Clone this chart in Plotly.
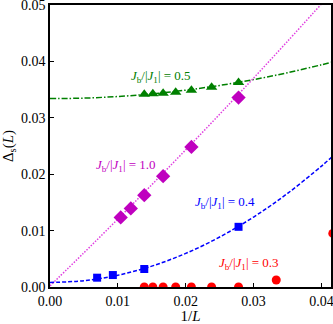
# %%
# imports
import plotly.graph_objects as go

# %%
# data: 1/L and gap Delta_s(L)
# J_b/|J_1| = 0.5 (green triangles)
x_05 = [1/72, 1/66, 1/60, 1/54, 1/48, 1/42, 1/36]
y_05 = [0.03416, 0.03425, 0.03434, 0.03451, 0.03487, 0.0354, 0.03628]
# J_b/|J_1| = 1.0 (magenta diamonds)
x_10 = [1/96, 1/84, 1/72, 1/60, 1/48, 1/36]
y_10 = [0.01234, 0.01393, 0.01628, 0.01965, 0.02483, 0.03358]
# J_b/|J_1| = 0.4 (blue squares)
x_04 = [1/144, 1/108, 1/72, 1/36]
y_04 = [0.00165, 0.00212, 0.00319, 0.01067]
# J_b/|J_1| = 0.3 (red circles)
x_03 = [1/72, 1/66, 1/60, 1/54, 1/48, 1/42, 1/36, 1/30, 1/24]
y_03 = [0.0, 0.0, 0.0, 0.0, 0.0, 0.0, 0.0, 0.00124, 0.0095]

# fit curves
x_fit = [0.0, 0.005, 0.01, 0.015, 0.02, 0.025, 0.03, 0.035, 0.04, 0.0415]
fit_05 = [0.0334, 0.03349, 0.03378, 0.03424, 0.0349, 0.03574, 0.03678, 0.03799, 0.0394, 0.03986]
fit_04 = [0.0008, 0.00112, 0.00209, 0.0037, 0.00596, 0.00886, 0.01241, 0.0166, 0.02144, 0.02302]
x_fit_10 = [0.0, 0.005, 0.01, 0.015, 0.02, 0.025, 0.03, 0.035, 0.04]
fit_10 = [0.0002, 0.00607, 0.01205, 0.01814, 0.02433, 0.03064, 0.03705, 0.04357, 0.0502]

# label text and positions
labels = ["0.5", "1.0", "0.4", "0.3"]
label_x = [0.01638, 0.01122, 0.02583, 0.0293]
label_y = [0.03735, 0.0216, 0.01504, 0.00425]

GREEN = "#008000"
MAGENTA = "#bf00bf"
BLUE = "#0000ff"
RED = "#ff0000"
FONT = "Liberation Serif"

# %%
fig = go.Figure()

# fit lines first so markers sit on top
fig.add_trace(go.Scatter(x=x_fit, y=fit_05, mode="lines", line_shape="spline",
                         line=dict(color=GREEN, width=1.5, dash="6px,2px,1.5px,2px")))
fig.add_trace(go.Scatter(x=x_fit_10, y=fit_10, mode="lines", line_shape="spline",
                         line=dict(color="#e040e0", width=1.5, dash="1.5px,1.5px")))
fig.add_trace(go.Scatter(x=x_fit, y=fit_04, mode="lines", line_shape="spline",
                         line=dict(color=BLUE, width=1.5, dash="4px,2px")))

fig.add_trace(go.Scatter(x=x_05, y=y_05, mode="markers",
                         marker=dict(symbol="triangle-up", size=10, color=GREEN)))
fig.add_trace(go.Scatter(x=x_10, y=y_10, mode="markers",
                         marker=dict(symbol="diamond", size=11, color=MAGENTA)))
fig.add_trace(go.Scatter(x=x_04, y=y_04, mode="markers",
                         marker=dict(symbol="square", size=8, color=BLUE)))
fig.add_trace(go.Scatter(x=x_03, y=y_03, mode="markers",
                         marker=dict(symbol="circle", size=9, color=RED)))

# text labels next to each data set
for lab, lx, ly, col in zip(labels, label_x, label_y, [GREEN, MAGENTA, BLUE, RED]):
    fig.add_annotation(x=lx, y=ly, xref="x", yref="y", showarrow=False,
                       text=f"<i>J</i><sub>b</sub>/|<i>J</i><sub>1</sub>| = {lab}",
                       font=dict(family=FONT, size=13, color=col))

axis_style = dict(showline=True, linecolor="black", linewidth=1.5, mirror=True,
                  ticks="inside", ticklen=4, tickwidth=1, tickcolor="black",
                  showgrid=False, zeroline=False, ticklabeloverflow="allow",
                  tickfont=dict(family=FONT, size=14, color="black"))
fig.update_xaxes(range=[0, 0.0414], tickvals=[0, 0.01, 0.02, 0.03, 0.04],
                 tickformat=".2f", title=dict(text="1/<i>L</i>", standoff=4,
                 font=dict(family=FONT, size=15, color="black")), **axis_style)
fig.update_yaxes(range=[0, 0.05], tickvals=[0, 0.01, 0.02, 0.03, 0.04, 0.05],
                 tickformat=".2f", title=dict(text="Δ<sub>s</sub>(<i>L</i>)", standoff=4,
                 font=dict(family=FONT, size=15, color="black")), **axis_style)

fig.update_layout(width=333, height=324, showlegend=False,
                  margin=dict(l=50, r=2, t=5, b=37, autoexpand=False),
                  plot_bgcolor="white", paper_bgcolor="white")

# drop the page's default body margin so the figure sits at the window corner
fig.write_html("out.html", config={"displayModeBar": False},
               post_script="document.body.style.margin='0';")
